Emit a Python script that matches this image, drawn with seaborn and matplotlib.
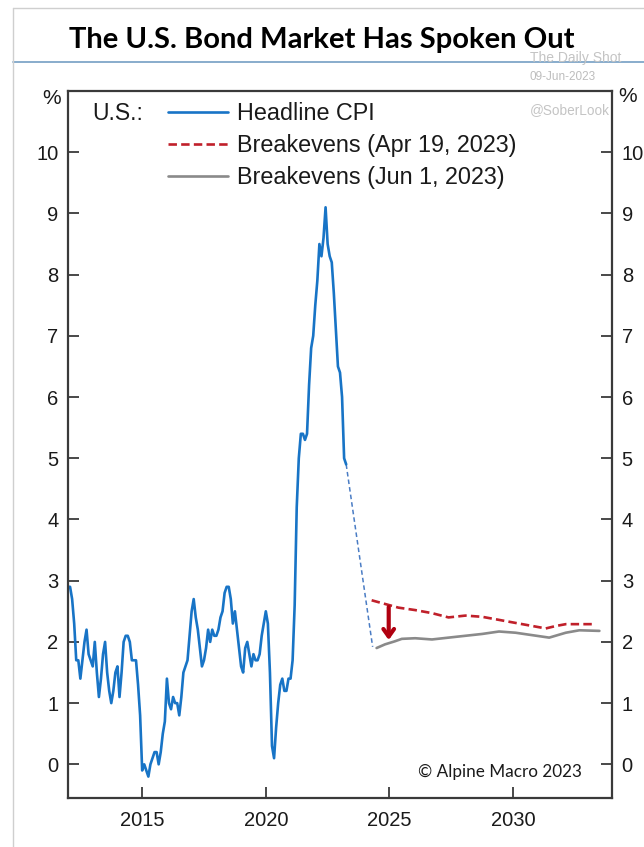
import numpy as np
import pandas as pd
import matplotlib
matplotlib.use("Agg")
import matplotlib.pyplot as plt
from matplotlib.lines import Line2D
import seaborn as sns

# US headline CPI, y/y %, monthly Jan 2012 - Apr 2023
cpi_values = [
    2.9, 2.9, 2.7, 2.3, 1.7, 1.7, 1.4, 1.7, 2.0, 2.2, 1.8, 1.7,   # 2012
    1.6, 2.0, 1.5, 1.1, 1.4, 1.8, 2.0, 1.5, 1.2, 1.0, 1.2, 1.5,   # 2013
    1.6, 1.1, 1.5, 2.0, 2.1, 2.1, 2.0, 1.7, 1.7, 1.7, 1.3, 0.8,   # 2014
    -0.1, 0.0, -0.1, -0.2, 0.0, 0.1, 0.2, 0.2, 0.0, 0.2, 0.5, 0.7,  # 2015
    1.4, 1.0, 0.9, 1.1, 1.0, 1.0, 0.8, 1.1, 1.5, 1.6, 1.7, 2.1,   # 2016
    2.5, 2.7, 2.4, 2.2, 1.9, 1.6, 1.7, 1.9, 2.2, 2.0, 2.2, 2.1,   # 2017
    2.1, 2.2, 2.4, 2.5, 2.8, 2.9, 2.9, 2.7, 2.3, 2.5, 2.2, 1.9,   # 2018
    1.6, 1.5, 1.9, 2.0, 1.8, 1.6, 1.8, 1.7, 1.7, 1.8, 2.1, 2.3,   # 2019
    2.5, 2.3, 1.5, 0.3, 0.1, 0.6, 1.0, 1.3, 1.4, 1.2, 1.2, 1.4,   # 2020
    1.4, 1.7, 2.6, 4.2, 5.0, 5.4, 5.4, 5.3, 5.4, 6.2, 6.8, 7.0,   # 2021
    7.5, 7.9, 8.5, 8.3, 8.6, 9.1, 8.5, 8.3, 8.2, 7.7, 7.1, 6.5,   # 2022
    6.4, 6.0, 5.0, 4.9,                                           # 2023
]
cpi_dates = [2012 + i / 12 for i in range(len(cpi_values))]

# Inflation path implied by breakevens, as of Apr 19, 2023
be_apr_years = [2024.28, 2025.36, 2026.04, 2026.72, 2027.39, 2028.07, 2028.75,
                2029.43, 2030.10, 2030.78, 2031.32, 2031.73, 2032.13, 2033.35]
be_apr_values = [2.68, 2.56, 2.52, 2.47, 2.40, 2.43, 2.41,
                 2.36, 2.31, 2.26, 2.22, 2.26, 2.29, 2.29]

# Inflation path implied by breakevens, as of Jun 1, 2023
be_jun_years = [2024.48, 2024.82, 2025.22, 2025.50, 2026.04, 2026.72, 2027.39, 2028.07,
                2028.75, 2029.43, 2030.10, 2030.78, 2031.46, 2032.13, 2032.68, 2033.49]
be_jun_values = [1.90, 1.96, 2.01, 2.05, 2.06, 2.04, 2.07, 2.10,
                 2.13, 2.17, 2.15, 2.11, 2.07, 2.15, 2.19, 2.18]

# Dotted bridge from the last CPI print to the start of the breakeven path
bridge_years = [cpi_dates[-1], 2024.32]
bridge_values = [cpi_values[-1], 1.92]

y_ticks = list(range(0, 11))
x_ticks = [2015, 2020, 2025, 2030]

BLUE = "#1874C6"
RED = "#C0202A"
GRAY = "#8A8A8A"
AXIS = "#3A3A3A"

sns.set_theme(style="ticks")
plt.rcParams["font.family"] = ["Liberation Sans", "DejaVu Sans"]

W, H = 644, 847
fig = plt.figure(figsize=(W / 100, H / 100), dpi=100)
fig.patch.set_facecolor("white")

L, R, T, B = 68, 612, 91, 798
ax = fig.add_axes([L / W, 1 - B / H, (R - L) / W, (B - T) / H])

cpi_df = pd.DataFrame({"date": cpi_dates, "value": cpi_values})
apr_df = pd.DataFrame({"date": be_apr_years, "value": be_apr_values})
jun_df = pd.DataFrame({"date": be_jun_years, "value": be_jun_values})
bridge_df = pd.DataFrame({"date": bridge_years, "value": bridge_values})

sns.lineplot(data=bridge_df, x="date", y="value", ax=ax, color="#4A7CC4",
             lw=1.1, linestyle=(0, (3, 2)), legend=False)
sns.lineplot(data=cpi_df, x="date", y="value", ax=ax, color=BLUE, lw=1.9,
             label="Headline CPI")
sns.lineplot(data=apr_df, x="date", y="value", ax=ax, color=RED, lw=1.9,
             linestyle=(0, (3.2, 1.6)), label="Breakevens (Apr 19, 2023)")
sns.lineplot(data=jun_df, x="date", y="value", ax=ax, color=GRAY, lw=1.9,
             label="Breakevens (Jun 1, 2023)")

# Downward arrow between the two breakeven paths
ax.annotate("", xy=(2024.97, 2.03), xytext=(2024.97, 2.57),
            arrowprops=dict(arrowstyle="->,head_length=0.45,head_width=0.32",
                            color="#B00010", lw=3.0, shrinkA=0, shrinkB=0))

ax.set_xlim(2012, 2034)
ax.set_ylim(-0.55, 11)
ax.set_xticks(x_ticks)
ax.set_xticklabels([str(t) for t in x_ticks])
ax.set_yticks(y_ticks)
ax.set_xlabel("")
ax.set_ylabel("")

ax.tick_params(axis="both", direction="in", length=8, width=1.3, color=AXIS,
               labelsize=14.5, labelcolor="#1A1A1A")
ax.tick_params(axis="y", which="both", left=True, right=True,
               labelleft=True, labelright=True, pad=7)
ax.tick_params(axis="x", pad=9)
for side in ["left", "right", "top", "bottom"]:
    ax.spines[side].set_visible(True)
    ax.spines[side].set_color(AXIS)
    ax.spines[side].set_linewidth(1.6)

handles, labels = ax.get_legend_handles_labels()
leg = ax.legend(handles, labels, loc="upper left",
                bbox_to_anchor=((168 - L) / (R - L), (B - 102) / (B - T)),
                frameon=False, fontsize=16.8, handlelength=2.58,
                handletextpad=0.38, labelspacing=0.38, borderpad=0,
                borderaxespad=0)
for t in leg.get_texts():
    t.set_color("#1A1A1A")

ax.text((92 - L) / (R - L), (B - 113) / (B - T), "U.S.:", transform=ax.transAxes,
        fontsize=16.5, color="#1A1A1A", ha="left", va="center")

ax.text((582 - L) / (R - L), (B - 772) / (B - T), "© Alpine Macro 2023",
        transform=ax.transAxes, fontsize=12.3, family=["Lato", "DejaVu Sans"],
        color="#1A1A1A", ha="right", va="center")

# Percent signs over each axis
fig.text(52 / W, 1 - 98 / H, "%", fontsize=15, color="#1A1A1A",
         ha="center", va="center")
fig.text(628 / W, 1 - 96 / H, "%", fontsize=15, color="#1A1A1A",
         ha="center", va="center")

# Title and page rules
fig.text(322 / W, 1 - 40 / H, "The U.S. Bond Market Has Spoken Out",
         fontsize=21, fontweight="bold", family=["Lato", "DejaVu Sans"],
         color="black", ha="center", va="center")
fig.add_artist(Line2D([13 / W, 1], [1 - 62 / H, 1 - 62 / H],
                      transform=fig.transFigure, color="#7FA6C8", lw=1.3))
fig.add_artist(Line2D([13 / W, 1], [1 - 8 / H, 1 - 8 / H],
                      transform=fig.transFigure, color="#CFCFCF", lw=1.0))
fig.add_artist(Line2D([13 / W, 13 / W], [0, 1 - 8 / H],
                      transform=fig.transFigure, color="#CFCFCF", lw=1.0))

# Source stamps
fig.text(576 / W, 1 - 58 / H, "The Daily Shot", fontsize=10, color="#C4C4C4",
         ha="center", va="center")
fig.text(563 / W, 1 - 77 / H, "09-Jun-2023", fontsize=8.5, color="#BDBDBD",
         ha="center", va="center")
fig.text(570 / W, 1 - 110 / H, "@SoberLook", fontsize=9.8, color="#C4C4C4",
         ha="center", va="center")

fig.savefig("out.png", dpi=100, facecolor="white")
